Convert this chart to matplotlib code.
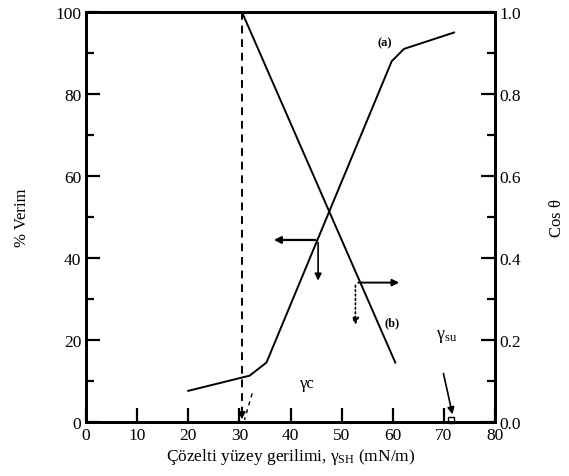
import matplotlib
matplotlib.use("Agg")
from matplotlib import pyplot as plt

# curve (a): % Verim (left axis)
a_x = [20, 32, 35.3, 59.8, 62.2, 72]
a_y = [7.6, 11.3, 14.5, 88, 91, 95]

# curve (b): cos theta (right axis)
b_x = [6.7, 30.5, 60.5]
b_y = [1.0, 1.0, 0.145]

gamma_c = 30.5
gamma_su = 72

plt.rcParams['font.family'] = ['Liberation Serif', 'DejaVu Serif']
plt.rcParams['mathtext.fontset'] = 'custom'
plt.rcParams['mathtext.rm'] = 'Liberation Serif'
plt.rcParams['mathtext.it'] = 'Liberation Serif:italic'

fig = plt.figure(figsize=(5.69, 4.77), dpi=100)
ax = fig.add_axes([86 / 569, 1 - 423 / 477, 409 / 569, 410 / 477])
ax2 = ax.twinx()

ax.plot(a_x, a_y, color='black', lw=1.4)
ax2.plot(b_x, b_y, color='black', lw=1.4)

# gamma_c dashed line and extrapolation
ax.plot([gamma_c, gamma_c], [100, 1.5], color='black', lw=1.4, ls=(0, (4, 3)))
ax.annotate('', xy=(gamma_c, 0), xytext=(gamma_c, 3),
            arrowprops=dict(arrowstyle='-|>', color='black', lw=1.2))
ax.plot([32.5, 31], [7, 0.5], color='black', lw=1.0, ls=(0, (3, 3)))

# arrows from curve (a)
ax.annotate('', xy=(36.2, 44.4), xytext=(45.4, 44.4),
            arrowprops=dict(arrowstyle='-|>', color='black', lw=1.6))
ax.annotate('', xy=(45.4, 33.8), xytext=(45.4, 44.4),
            arrowprops=dict(arrowstyle='-|>', color='black', lw=1.2))

# arrows from curve (b)
ax2.annotate('', xy=(61.8, 0.34), xytext=(52.7, 0.34),
             arrowprops=dict(arrowstyle='-|>', color='black', lw=1.4))
ax2.annotate('', xy=(52.7, 0.23), xytext=(52.7, 0.34),
             arrowprops=dict(arrowstyle='-|>', color='black', lw=1.2, ls=':'))

# gamma_su marker
ax.annotate('', xy=(71.8, 1.2), xytext=(69.8, 12.5),
            arrowprops=dict(arrowstyle='-|>', color='black', lw=1.2))
ax.plot([71.3], [0.6], marker='s', mfc='white', mec='black', ms=5, clip_on=False)

ax.text(58.5, 92, '(a)', fontsize=9, fontweight='bold', ha='center')
ax2.text(59.8, 0.235, '(b)', fontsize=9, fontweight='bold', ha='center')
ax.text(41.8, 8.5, 'γc', fontsize=12, ha='left')
ax.text(68.5, 20.5, r'$\mathrm{γ_{su}}$', fontsize=13, ha='left')

ax.set_xlim(0, 80)
ax.set_ylim(0, 100)
ax2.set_ylim(0, 1.0)
ax.set_xticks(range(0, 81, 10))
ax.set_yticks(range(0, 101, 20))
ax.set_yticks(range(10, 100, 20), minor=True)
ax2.set_yticks([0.0, 0.2, 0.4, 0.6, 0.8, 1.0])
ax2.set_yticklabels(['0.0', '0.2', '0.4', '0.6', '0.8', '1.0'])
ax2.set_yticks([0.1, 0.3, 0.5, 0.7, 0.9], minor=True)

for a in (ax, ax2):
    a.tick_params(which='both', direction='in', width=1.6, labelsize=12.5)
    a.tick_params(which='major', length=10)
    a.tick_params(which='minor', length=6)
    for s in a.spines.values():
        s.set_linewidth(2)

ax.set_ylabel('% Verim', fontsize=12, labelpad=18)
ax2.set_ylabel(r'Cos $\mathrm{θ}$', fontsize=12, labelpad=20)
ax.set_xlabel(r'Çözelti yüzey gerilimi, $\mathrm{γ_{SH}}$ (mN/m)', fontsize=12.5, labelpad=2)

fig.savefig('out.png', dpi=100)
